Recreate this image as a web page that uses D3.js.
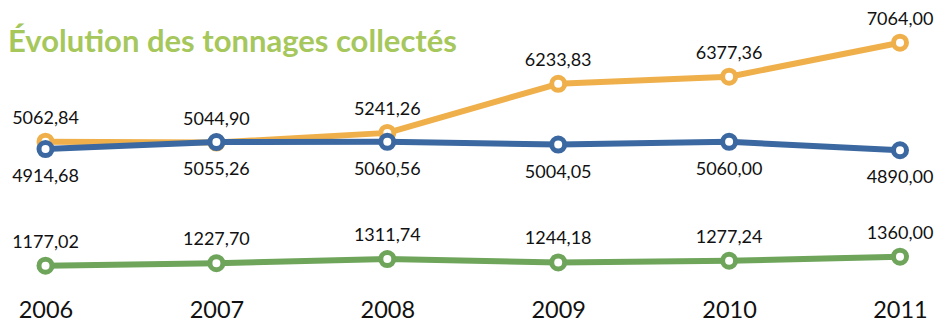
<!DOCTYPE html>
<html>
<head>
<meta charset="utf-8">
<script src="https://cdn.jsdelivr.net/npm/d3@7"></script>
<style>
  html, body { margin: 0; padding: 0; background: #ffffff; }
  svg { display: block; font-family: "Lato", "DejaVu Sans", sans-serif; }
</style>
</head>
<body>
<svg id="chart" width="934" height="322"></svg>
<script>
// Years on the horizontal axis
const years = ["2006", "2007", "2008", "2009", "2010", "2011"];

// Collected tonnages per stream
const orangeValues = [5062.84, 5044.90, 5241.26, 6233.83, 6377.36, 7064.00];
const blueValues   = [4914.68, 5055.26, 5060.56, 5004.05, 5060.00, 4890.00];
const greenValues  = [1177.02, 1227.70, 1311.74, 1244.18, 1277.24, 1360.00];

const title = "Évolution des tonnages collectés";

const svg = d3.select("#chart");

const x = d3.scalePoint().domain(years).range([45.5, 900]);

// Broken vertical axis: the upper band holds the two large series,
// the lower band the small one, both at the same units-per-pixel.
const yHigh = d3.scaleLinear().domain([4800, 7200]).range([154.7, 36.0]);
const yLow  = d3.scaleLinear().domain([1100, 1400]).range([269.5, 254.7]);

const fmt = v => d3.format(".2f")(v).replace(".", ",");

const series = [
  { values: orangeValues, color: "#efb04b", y: yHigh, labelPos: "above" },
  { values: blueValues,   color: "#3b68a0", y: yHigh, labelPos: "below" },
  { values: greenValues,  color: "#6ea55b", y: yLow,  labelPos: "above" }
];

// Title
svg.append("text")
  .attr("x", 8)
  .attr("y", 52)
  .attr("fill", "#a6c75b")
  .attr("font-size", 31)
  .attr("font-weight", 700)
  .text(title);

// Lines and markers
series.forEach(s => {
  const line = d3.line()
    .x((d, i) => x(years[i]))
    .y(d => s.y(d));

  const g = svg.append("g");
  g.append("path")
    .datum(s.values)
    .attr("d", line)
    .attr("fill", "none")
    .attr("stroke", s.color)
    .attr("stroke-width", 6)
    .attr("stroke-linejoin", "round");

  g.selectAll("circle")
    .data(s.values)
    .join("circle")
    .attr("cx", (d, i) => x(years[i]))
    .attr("cy", d => s.y(d))
    .attr("r", 6.5)
    .attr("fill", "#ffffff")
    .attr("stroke", s.color)
    .attr("stroke-width", 5);
});

// Value labels
series.forEach(s => {
  svg.append("g")
    .selectAll("text")
    .data(s.values)
    .join("text")
    .attr("x", (d, i) => x(years[i]))
    .attr("y", d => s.labelPos === "above" ? s.y(d) - 18 : s.y(d) + 33)
    .attr("text-anchor", "middle")
    .attr("font-size", 18)
    .attr("fill", "#111111")
    .text(fmt);
});

// Year axis labels
const xAxis = d3.axisBottom(x).tickSize(0).tickPadding(0);
const axisG = svg.append("g")
  .attr("transform", "translate(0,301)")
  .call(xAxis);
axisG.select(".domain").remove();
axisG.selectAll("text")
  .attr("font-size", 23.5)
  .attr("font-family", "Lato, 'DejaVu Sans', sans-serif")
  .attr("fill", "#111111")
  .attr("dy", "0.71em");
</script>
</body>
</html>
